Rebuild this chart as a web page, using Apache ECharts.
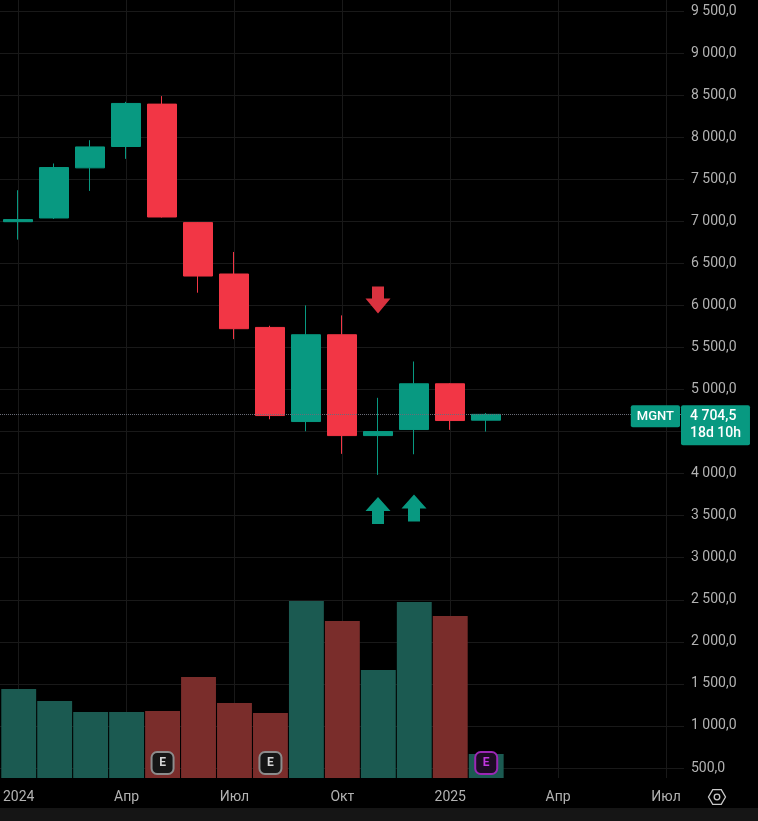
<!DOCTYPE html>
<html><head><meta charset="utf-8">
<script src="https://cdn.jsdelivr.net/npm/echarts@6/dist/echarts.min.js"></script>
<style>html,body{margin:0;padding:0;background:#000;}#c{width:758px;height:821px;}</style>
</head><body><div id="c"></div>
<script>
// ---- data (monthly MGNT) ----
const months = ['2024-01','2024-02','2024-03','2024-04','2024-05','2024-06','2024-07','2024-08','2024-09','2024-10','2024-11','2024-12','2025-01','2025-02','2025-03','2025-04','2025-05','2025-06','2025-07'];
const opens  = [6995, 7039, 7635, 7889, 8393, 6984, 6373, 5738, 4619, 5651, 4452, 4524, 5068, 4635];
const closes = [7020, 7639, 7884, 8401, 7051, 6349, 5723, 4690, 5651, 4452, 4500, 5068, 4631, 4704.5];
const lows   = [6782, 7027, 7361, 7742, 7045, 6151, 5599, 4646, 4504, 4235, 3985, 4230, 4520, 4500];
const highs  = [7369, 7687, 7964, 8420, 8488, 6990, 6635, 5758, 6000, 5881, 4901, 5333, 5075, 4720];
const volumes = [890, 770, 660, 660, 670, 1010, 750, 650, 1770, 1570, 1080, 1760, 1620, 240];
const monthNames = ['Янв','Фев','Мар','Апр','Май','Июн','Июл','Авг','Сен','Окт','Ноя','Дек'];
const earningsPast = ['2024-05','2024-08'];
const earningsUpcoming = ['2025-02'];
const sellSignals = [['2024-11', 6065]];
const buySignals = [['2024-11', 3560], ['2024-12', 3590]];
const ticker = 'MGNT';
const lastPrice = 4704.5;
const countdown = '18d 10h';
const priceMin = 500, priceMax = 9500, priceStep = 500;

// ---- styles ----
const UP = '#089981', DOWN = '#f23645';
const VOL_UP = '#1b5a51', VOL_DOWN = '#7a2d2b';
const GRID = '#191919', TXT = '#b2b2b2';
const FONT = 'Roboto';

function fmt(v){
  const parts = v.toFixed(1).split('.');
  const intp = parts[0].replace(/\B(?=(\d{3})+(?!\d))/g, ' ');
  return intp + ',' + parts[1];
}

const candleData = months.map((m,i)=> i < opens.length ? [opens[i], closes[i], lows[i], highs[i]] : '-');
const volData = months.map((m,i)=> i < volumes.length ? {value: volumes[i], itemStyle:{color: closes[i] >= opens[i] ? VOL_UP : VOL_DOWN}} : '-');

const upArrow = 'path://M12.5,0 L25,14 L18.5,14 L18.5,27 L6.5,27 L6.5,14 L0,14 Z';
const downArrow = 'path://M6.5,0 L18.5,0 L18.5,12 L25,12 L12.5,27 L0,12 L6.5,12 Z';

const chart = echarts.init(document.getElementById('c'), null, {renderer:'canvas'});

// hexagon gear icon points
const hex = [];
for (let k=0;k<6;k++){ const a = Math.PI/3*k; hex.push([717+8.5*Math.cos(a), 797+8.5*Math.sin(a)]); }

chart.setOption({
  backgroundColor: '#000000',
  animation: false,
  textStyle: {fontFamily: FONT},
  grid: [
    {left: 0, right: 74, top: 11, bottom: 53},
    {left: 0, right: 74, top: 0, bottom: 43}
  ],
  xAxis: [
    {type:'category', gridIndex:0, data: months, show:false, boundaryGap:true},
    {type:'category', gridIndex:1, data: months, boundaryGap:true,
     axisLine:{show:false}, axisTick:{show:false}, splitLine:{show:false},
     axisLabel:{interval:2, color:TXT, fontSize:14, fontFamily:FONT, margin:12,
       formatter: (v)=>{ const [y,m] = v.split('-'); const mi = +m; return mi===1 ? y : monthNames[mi-1]; }}}
  ],
  yAxis: [
    {type:'value', gridIndex:0, position:'right', min:priceMin, max:priceMax, interval:priceStep,
     axisLine:{show:false}, axisTick:{show:false},
     splitLine:{show:true, lineStyle:{color:GRID, width:1}},
     axisLabel:{color:TXT, fontSize:14, fontFamily:FONT, margin:7, formatter:(v)=>fmt(v)}},
    {type:'value', gridIndex:1, min:0, max:7780, show:false, splitLine:{show:false}}
  ],
  series: [
    { // vertical grid lines at labelled months
      type:'line', xAxisIndex:1, yAxisIndex:1, data:[], z:0, silent:true,
      markLine:{silent:true, z:0, symbol:['none','none'], animation:false,
        lineStyle:{color:GRID, type:'solid', width:1},
        label:{show:false},
        data: months.filter((m,i)=>i%3===0).map(m=>({xAxis:m}))}
    },
    {
      type:'bar', name:'Volume', xAxisIndex:1, yAxisIndex:1, data: volData, z:2,
      barCategoryGap:'3%', silent:true
    },
    {
      type:'candlestick', name:ticker, xAxisIndex:0, yAxisIndex:0, data: candleData, z:3,
      barWidth:'80%',
      itemStyle:{color:UP, color0:DOWN, borderColor:UP, borderColor0:DOWN, borderWidth:1},
      markLine:{silent:true, z:6, symbol:['none','none'], animation:false,
        data:[
          {yAxis:lastPrice, lineStyle:{color:'#6a6d78', type:'dotted', width:1},
           label:{show:true, position:'end', distance:-3, formatter: ()=> fmt(lastPrice) + '\n' + countdown,
             backgroundColor:UP, color:'#ffffff', fontSize:14, fontWeight:500, fontFamily:FONT, lineHeight:17,
             padding:[3,9,3,9], borderRadius:2, align:'left', verticalAlign:'top', offset:[0,-9]}}
        ]}
    },
    { // ticker tag on the last-price line
      type:'line', xAxisIndex:0, yAxisIndex:0, data:[], z:6, silent:true,
      markLine:{silent:true, z:6, symbol:['none','none'], animation:false,
        lineStyle:{color:'rgba(0,0,0,0)', width:1, type:'solid'},
        data:[
          {yAxis:lastPrice,
           label:{show:true, position:'end', distance:-4, align:'right', verticalAlign:'middle', formatter: ()=> ticker,
             backgroundColor:UP, color:'#ffffff', fontSize:13, fontWeight:500, fontFamily:FONT,
             padding:[5,6,4,6], borderRadius:2, offset:[0,2]}}
        ]}
    },
    {
      type:'scatter', xAxisIndex:0, yAxisIndex:0, z:4, silent:true,
      symbol: downArrow, symbolSize:[25,27],
      itemStyle:{color:'#d9323f', opacity:1}, data: sellSignals
    },
    {
      type:'scatter', xAxisIndex:0, yAxisIndex:0, z:4, silent:true,
      symbol: upArrow, symbolSize:[25,27],
      itemStyle:{color:UP, opacity:1}, data: buySignals
    },
    {
      type:'scatter', xAxisIndex:1, yAxisIndex:1, z:5, silent:true,
      symbol:'roundRect', symbolSize:22, symbolOffset:[0,-15],
      itemStyle:{color:'#161616', borderColor:'#8c8c8c', borderWidth:2, opacity:1},
      label:{show:true, position:'inside', formatter:'E', color:'#d6d6d6', fontSize:12, fontWeight:'bold', fontFamily:FONT},
      data: earningsPast.map(m=>[m,0])
    },
    {
      type:'scatter', xAxisIndex:1, yAxisIndex:1, z:5, silent:true,
      symbol:'roundRect', symbolSize:22, symbolOffset:[0,-15],
      itemStyle:{color:'#1d0b24', borderColor:'#9b27b5', borderWidth:2, opacity:1},
      label:{show:true, position:'inside', formatter:'E', color:'#c236e0', fontSize:12, fontWeight:'bold', fontFamily:FONT},
      data: earningsUpcoming.map(m=>[m,0])
    }
  ],
  graphic:[
    {type:'rect', left:0, top:808, shape:{width:758, height:13}, style:{fill:'#151515'}, silent:true, z:10},
    {type:'polygon', shape:{points:hex}, style:{fill:'none', stroke:'#c8c8c8', lineWidth:1.3}, silent:true, z:10},
    {type:'circle', shape:{cx:717, cy:797, r:2.8}, style:{fill:'none', stroke:'#c8c8c8', lineWidth:1.3}, silent:true, z:10}
  ]
});
</script>
</body></html>
